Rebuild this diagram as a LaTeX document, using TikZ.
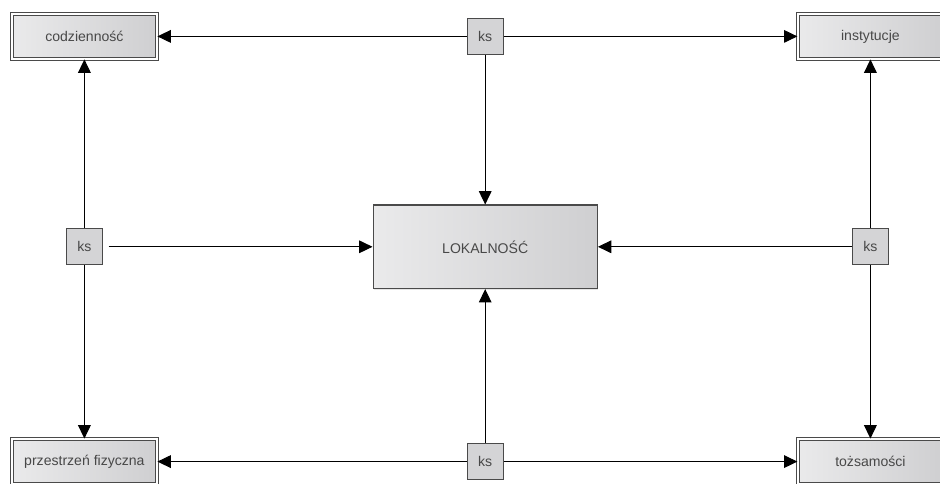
\documentclass[tikz,border=0pt]{standalone}
\usepackage{fontspec}
\setmainfont{Liberation Sans}
\usepackage{tikz}
\usetikzlibrary{arrows.meta,shadows}

\definecolor{edgegray}{HTML}{4A4A4A}
\definecolor{txtgray}{HTML}{484848}
\definecolor{boxlight}{HTML}{EAEAEB}
\definecolor{boxdark}{HTML}{CFCFD1}
\definecolor{ksfill}{HTML}{D4D4D6}

\tikzset{
  outer/.style={rectangle, draw=edgegray, line width=0.6pt, double=white,
    double distance=1.3pt, left color=boxlight, right color=boxdark,
    minimum width=3.63cm, minimum height=1.13cm, text=txtgray,
    font=\fontsize{10}{12}\selectfont,
    drop shadow={shadow xshift=0.8pt, shadow yshift=-0.8pt, opacity=0.25}},
  center/.style={rectangle, draw=edgegray, line width=1pt,
    left color=boxlight, right color=boxdark,
    minimum width=5.6cm, minimum height=2.08cm, text=txtgray,
    font=\fontsize{10}{12}\selectfont,
    drop shadow={shadow xshift=0.8pt, shadow yshift=-0.8pt, opacity=0.2}},
  ksbox/.style={rectangle, draw=edgegray, line width=0.9pt, fill=ksfill,
    minimum size=0.9cm, inner sep=0pt, text=txtgray,
    font=\fontsize{10}{12}\selectfont},
  arr/.style={-{Triangle[length=9.5pt,width=9pt]}, draw=black, line width=0.7pt}
}

\begin{document}
\begin{tikzpicture}
\useasboundingbox (0,0) rectangle (23.5,12.1);

\node (cod) at (2.11,11.19) [outer] {codzienność};
\node (inst) at (21.76,11.19) [outer] {instytucje};
\node (prz) at (2.11,0.56) [outer] {przestrzeń fizyczna};
\node (toz) at (21.76,0.56) [outer] {tożsamości};

\node (lok) at (12.13,5.93) [center] {LOKALNOŚĆ};

\node (kst) at (12.13,11.19) [ksbox] {ks}
      edge[arr] (cod) edge[arr] (inst) edge[arr] (lok);
\node (ksb) at (12.13,0.56) [ksbox] {ks}
      edge[arr] (prz) edge[arr] (toz) edge[arr] (lok);

\node (ksl) at (2.11,5.93) [ksbox] {ks}
      edge[arr] (cod) edge[arr] (prz) edge[arr, shorten <=4pt] (lok);
\node (ksr) at (21.76,5.93) [ksbox] {ks}
      edge[arr] (inst) edge[arr] (toz) edge[arr] (lok);
\end{tikzpicture}
\end{document}
